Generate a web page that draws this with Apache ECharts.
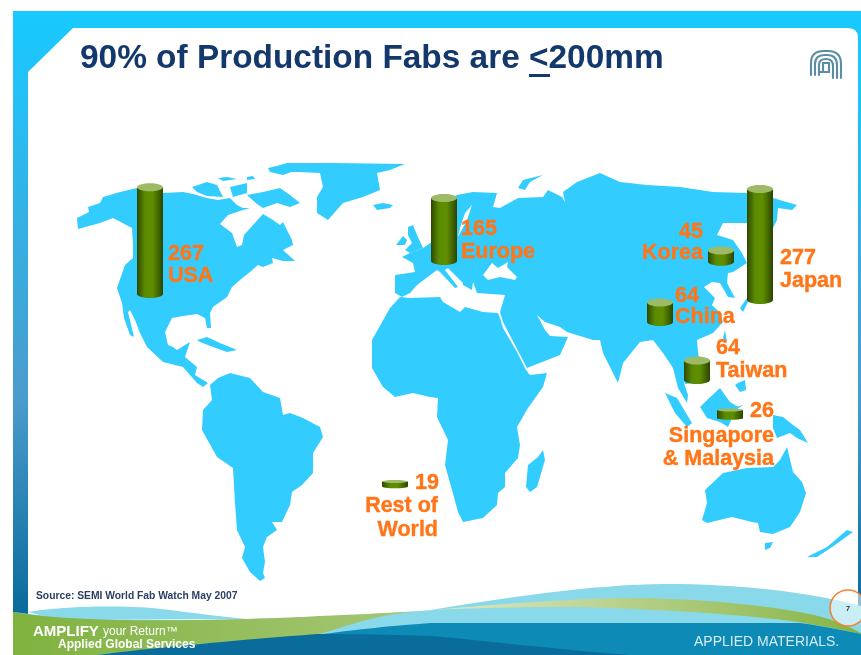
<!DOCTYPE html>
<html>
<head>
<meta charset="utf-8">
<title>90% of Production Fabs are <=200mm</title>
<style>html,body{margin:0;padding:0;background:#fff}#c{width:861px;height:655px}</style>
<script src="https://cdn.jsdelivr.net/npm/echarts@6/dist/echarts.min.js"></script>
</head>
<body>
<div id="c"></div>
<script>
// ---- chart values ----
const regionNames = ["USA", "Europe", "Korea", "China", "Japan", "Taiwan", "Singapore\n& Malaysia", "Rest of\nWorld"];
const fabCounts   = [267, 165, 45, 64, 277, 64, 26, 19];
// where each region's cylinder stands on the map (x along the map, y in fab-count units above the page foot)
const mapX    = [150, 444, 721, 660, 760, 697, 730, 395];
const mapBase = [830, 907, 905, 765, 816, 630, 547, 388];
// label offsets from the cylinder foot: [dx, dy, align]
const valueLabelAt = [[18,-44,"left"],[17,-36,"left"],[-18,-34,"right"],[15,-30,"left"],[20,-46,"left"],[19,-36,"left"],[20,-9,"left"],[20,-5,"left"]];
const nameLabelAt  = [[18,-22,"left"],[17,-13,"left"],[-18,-13,"right"],[15,-9,"left"],[20,-23,"left"],[19,-13,"left"],[44,28,"right"],[43,30,"right"]];

const titleText = "90% of Production Fabs are <200mm";
const sourceText = "Source: SEMI World Fab Watch May 2007";

// ---- backdrop geography (decoration, page pixels) ----
const land = [
 // North America
 [[60,236],[78,229],[77,218],[89,212],[88,207],[100,203],[103,197],[120,192],[137,188],[163,193],[183,192],[193,194],[207,198],[218,200],[230,198],[237,205],[243,208],[250,208],[243,210],[228,215],[220,224],[232,233],[237,247],[242,245],[244,235],[253,225],[263,214],[273,220],[280,225],[283,222],[292,240],[293,245],[283,250],[295,261],[283,261],[272,258],[273,263],[263,267],[258,265],[250,272],[240,280],[232,287],[227,297],[213,307],[210,313],[211,328],[207,328],[205,318],[197,314],[183,316],[172,318],[165,332],[168,345],[173,347],[177,350],[190,342],[185,357],[197,367],[195,375],[208,383],[203,387],[197,383],[183,367],[163,362],[147,347],[140,333],[135,320],[130,310],[128,312],[134,337],[130,335],[124,318],[122,303],[117,288],[125,265],[133,258],[133,245],[132,228],[113,218],[100,223],[78,229]],
 // Canadian islands
 [[192,187],[207,182],[217,185],[223,197],[207,196],[197,192]],
 [[247,195],[263,192],[280,188],[290,195],[300,203],[290,207],[277,203],[263,208],[257,204]],
 [[230,187],[247,183],[247,193],[233,197]],
 [[218,178],[227,177],[237,179],[223,181]],
 [[247,177],[253,176],[255,179],[247,180]],
 [[268,168],[283,165],[298,165],[303,168],[283,175],[270,172]],
 // Greenland
 [[270,168],[287,163],[333,163],[405,164],[390,170],[377,173],[380,190],[363,197],[343,203],[328,220],[317,213],[317,197],[323,187],[320,173],[300,172],[283,172]],
 // Iceland
 [[373,205],[383,203],[393,205],[390,208],[377,210]],
 // Cuba
 [[197,340],[207,337],[220,343],[237,350],[227,352],[213,347],[200,342]],
 // South America
 [[210,385],[218,378],[230,373],[250,378],[263,392],[280,398],[283,415],[290,413],[303,418],[320,427],[323,437],[313,453],[313,473],[302,485],[292,492],[290,505],[282,522],[272,522],[277,530],[267,537],[263,547],[265,562],[263,573],[265,578],[260,581],[250,572],[242,558],[245,547],[237,530],[235,503],[233,468],[217,457],[202,430],[203,410],[212,400]],
 // Africa
 [[400,297],[410,298],[440,297],[443,302],[460,312],[465,307],[483,312],[498,313],[500,318],[503,328],[517,352],[526,370],[530,375],[547,373],[543,387],[528,408],[517,427],[520,445],[518,458],[505,473],[505,487],[498,493],[497,505],[483,518],[463,522],[458,512],[452,490],[445,465],[448,440],[437,417],[438,398],[430,397],[413,393],[395,397],[383,387],[372,368],[372,340],[390,308]],
 // Madagascar
 [[543,450],[545,460],[537,487],[530,492],[526,487],[528,465],[538,457]],
 // Eurasia
 [[395,293],[395,275],[415,272],[413,263],[402,257],[410,253],[423,248],[435,240],[435,205],[457,195],[473,192],[497,193],[493,207],[500,208],[518,198],[543,197],[548,190],[562,197],[565,202],[563,192],[577,182],[600,173],[620,182],[647,185],[680,187],[713,192],[747,193],[773,198],[797,205],[792,210],[778,208],[777,220],[773,228],[760,230],[747,223],[723,223],[717,235],[733,240],[742,253],[747,263],[733,272],[728,273],[727,283],[735,298],[728,297],[720,283],[712,282],[704,287],[715,298],[712,305],[720,313],[723,322],[713,333],[697,340],[698,352],[700,365],[695,383],[685,384],[683,380],[688,395],[687,403],[678,388],[673,368],[663,353],[653,340],[640,342],[623,363],[618,383],[603,353],[600,340],[593,340],[567,332],[560,327],[545,322],[537,315],[545,330],[550,336],[568,337],[560,355],[527,368],[503,322],[500,312],[505,295],[477,293],[473,282],[472,290],[463,285],[463,283],[448,268],[445,270],[458,287],[455,288],[440,272],[437,270],[417,285],[410,293],[402,297]],
 // Britain, Ireland, Novaya Zemlya
 [[408,227],[413,225],[417,235],[423,248],[410,253],[405,250],[412,243],[408,235]],
 [[396,245],[403,236],[407,240],[405,245]],
 [[518,188],[523,180],[543,175],[530,182],[525,190]],
 // South-East Asia
 [[665,393],[677,398],[692,423],[687,427],[675,413]],
 [[700,407],[705,402],[720,388],[727,398],[730,402],[738,407],[732,418],[728,427],[720,422],[707,418]],
 [[732,408],[743,405],[733,412],[740,418],[733,418]],
 [[738,383],[745,380],[746,390],[740,392],[735,385]],
 [[725,330],[727,342],[723,338]],
 [[740,308],[747,298],[748,302],[743,312]],
 [[773,415],[783,417],[793,425],[800,430],[808,443],[797,438],[790,433],[777,438],[773,428]],
 // Australia, Tasmania, New Zealand
 [[787,447],[793,472],[802,482],[806,493],[800,512],[790,527],[773,534],[760,532],[758,523],[752,522],[732,517],[707,523],[702,520],[707,503],[705,490],[723,473],[747,468],[773,467],[780,460]],
 [[765,543],[773,542],[770,548],[765,550]],
 [[807,557],[827,547],[847,530],[853,532],[835,545],[817,557]]
];
const inlandSeas = [
 [[483,275],[492,263],[498,268],[508,262],[507,267],[517,277],[515,280],[500,277],[488,280]],
 [[460,228],[465,213],[472,205],[467,220],[458,237]]
];

// ---- backdrop drawing ----
const LAND = "#33ccff";
const lg = (x, y, x2, y2, a, b) => new echarts.graphic.LinearGradient(x, y, x2, y2, [{offset:0,color:a},{offset:1,color:b}]);
const poly = (points, fill) => ({type:"polygon", shape:{points}, style:{fill}});
const svg = (d, fill) => ({type:"path", shape:{pathData:d}, style:{fill}});
const line = (d, stroke, w) => ({type:"path", shape:{pathData:d}, style:{fill:"none", stroke, lineWidth:w, lineCap:"round"}});
const label = (text, x, y, font, fill, extra) => ({type:"text", x, y, style:Object.assign({text, font, fill, textVerticalAlign:"middle"}, extra||{})});

function renderBackdrop() {
  const frame = new echarts.graphic.LinearGradient(0,0,0,1,[
    {offset:0,color:"#16caff"},{offset:0.1,color:"#22c2f8"},{offset:0.6,color:"#4a9ccc"},{offset:0.93,color:"#0a6c9c"},{offset:1,color:"#0a6c9c"}]);
  return {type:"group", children:[
    {type:"rect", shape:{x:13,y:11,width:848,height:644}, style:{fill:frame}},
    svg("M73 28 L848 28 Q858 28 858 38 L858 655 L28 655 L28 72 Z", "#ffffff"),
    ...land.map(p => poly(p, LAND)),
    ...inlandSeas.map(p => poly(p, "#ffffff")),
    // footer swooshes
    svg("M13 612 C60 618 120 622 247 619 C300 618 370 615 431 610 C500 598 600 584 664 584 C740 584 810 592 861 606 L861 655 L13 655 Z", "#89d9ea"),
    svg("M28 612 C60 606 130 604 170 610 C200 614 225 617 247 619 L60 620 Z", "#89d9ea"),
    svg("M13 612 C70 622 170 621 247 619 C310 617 380 613 431 611 C380 613 360 622 317 635 C240 640 150 648 97 655 L13 655 Z", lg(0,0,1,0,"#7fb23f","#a8c878")),
    svg("M431 610 C500 604 580 598 631 598 C700 598 780 607 814 615 C835 620 850 627 861 633 L861 634 C830 627 790 620 764 618 C700 611 600 607 564 607 C520 607 470 608 431 610 Z", lg(0,0,1,0,"#dfe8c4","#86b444")),
    svg("M317 635 C350 630 400 625 431 623 L800 623 C830 627 850 632 861 634 L861 655 L431 655 L317 655 Z", "#0d8ab5"),
    svg("M97 655 C150 648 240 640 317 634 C360 634 400 635 431 636 C480 640 560 650 631 655 Z", "#0a6c9a"),
    // page number
    {type:"circle", shape:{cx:848,cy:608,r:18}, style:{fill:"rgba(255,255,255,0.55)", stroke:"#f58232", lineWidth:1.6}},
    label("7", 848, 609, "bold 8px 'Liberation Sans'", "#333f4f", {textAlign:"center"}),
    // title
    label(titleText, 80, 59, "bold 33.4px 'Liberation Sans'", "#13386b"),
    {type:"rect", shape:{x:529,y:74,width:21,height:3}, style:{fill:"#13386b"}},
    // logo
    line("M811 75 V63 Q811 51 824 51 H828 Q841 51 841 64 V78", "#5b8ea2", 2.1),
    line("M815 75 V64 Q815 55 825 55 H827 Q837 55 837 65 V78", "#5b8ea2", 2.1),
    line("M819 75 V65 Q819 59 826 59 Q833 59 833 66 V78", "#5b8ea2", 2.1),
    line("M823 72 V63 H829 V72 H820", "#5b8ea2", 2.1),
    // source + footer text
    label(sourceText, 36, 596, "bold 10.3px 'Liberation Sans'", "#2b3f63"),
    label("AMPLIFY", 33, 632, "bold 15px 'Liberation Sans'", "#ffffff"),
    label("your Return\u2122", 103, 632, "12px 'Liberation Sans'", "#ffffff"),
    label("Applied Global Services", 58, 645, "bold 12px 'Liberation Sans'", "#ffffff"),
    label("APPLIED MATERIALS.", 694, 642, "14px 'Liberation Sans'", "#d5ecf3")
  ]};
}

// ---- chart ----
const chart = echarts.init(document.getElementById("c"), null, {renderer:"canvas"});
const W = 26;

function renderCylinder(params, api) {
  const i = api.value(3);
  const foot = api.coord([api.value(0), api.value(1)]);
  const h = api.size([0, api.value(2)])[1];
  const cx = foot[0], by = foot[1], ty = by - h;
  const ry = h < 12 ? 1.5 : 4;
  const side = new echarts.graphic.LinearGradient(0,0,1,0,[
    {offset:0,color:"#2e4700"},{offset:0.3,color:"#5a8a00"},{offset:0.6,color:"#5f8f00"},{offset:1,color:"#2c4400"}]);
  const txt = (t, at) => ({type:"text", x:cx+at[0], y:by+at[1], z2:5,
    style:{text:t, textAlign:at[2], textVerticalAlign:"middle", font:"bold 21.5px 'Liberation Sans'", fill:"#ff7518", stroke:"#ff7518", lineWidth:0.4, lineHeight:23.5}});
  return {type:"group", children:[
    {type:"ellipse", shape:{cx, cy:by-ry, rx:W/2, ry}, style:{fill:side}},
    {type:"rect", shape:{x:cx-W/2, y:ty+ry, width:W, height:Math.max(0,h-2*ry)}, style:{fill:side}},
    {type:"ellipse", shape:{cx, cy:ty+ry, rx:W/2, ry}, style:{fill:"#9dbb66"}},
    txt(String(fabCounts[i]), valueLabelAt[i]),
    txt(regionNames[i], nameLabelAt[i])
  ]};
}

chart.setOption({
  animation:false,
  grid:{left:0, right:0, top:0, bottom:0},
  xAxis:{type:"value", min:0, max:861, show:false},
  yAxis:{type:"value", min:0, max:1523, show:false},
  series:[
   {type:"custom", z:1, silent:true, clip:false, renderItem:renderBackdrop, encode:{x:0,y:1}, data:[[0,0]]},
   {type:"custom", z:2, renderItem:renderCylinder, clip:false, encode:{x:0, y:1},
    data:fabCounts.map((v,i)=>[mapX[i], mapBase[i], v, i])}
  ]
});
</script>
</body>
</html>
